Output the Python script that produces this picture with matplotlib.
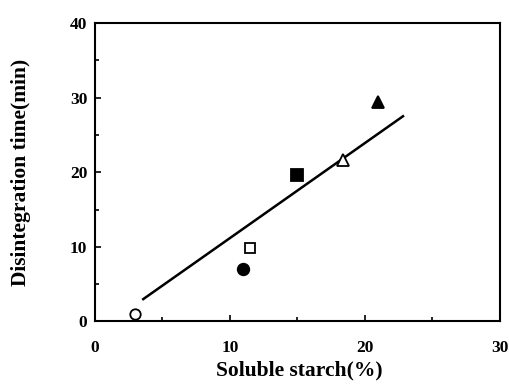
import matplotlib
matplotlib.use("Agg")
import matplotlib.pyplot as plt
from matplotlib.ticker import MultipleLocator

# Data
open_circle_x = [3.0]
open_circle_y = [1.0]
filled_circle_x = [11.0]
filled_circle_y = [7.0]
open_square_x = [11.5]
open_square_y = [9.9]
filled_square_x = [15.0]
filled_square_y = [19.6]
open_triangle_x = [18.4]
open_triangle_y = [21.6]
filled_triangle_x = [21.0]
filled_triangle_y = [29.4]
fit_x = [3.5, 22.9]
fit_y = [2.9, 27.6]

x_ticks = [0, 10, 20, 30]
y_ticks = [0, 10, 20, 30, 40]

plt.rcParams['font.family'] = ['Liberation Serif', 'DejaVu Serif']
plt.rcParams['font.weight'] = 'bold'

fig = plt.figure(figsize=(5.09, 3.87), dpi=100)
ax = fig.add_axes([0.1866, 0.1693, 0.7954, 0.7713])

ax.plot(fit_x, fit_y, color='black', lw=1.8, solid_capstyle='butt')

ms = 8.3
mew = 1.3
ax.plot(open_circle_x, open_circle_y, 'o', ms=ms - 0.8, mfc='white', mec='black', mew=mew)
ax.plot(filled_circle_x, filled_circle_y, 'o', ms=ms, mfc='black', mec='black', mew=mew)
ax.plot(open_square_x, open_square_y, 's', ms=ms - 1.0, mfc='white', mec='black', mew=mew)
ax.plot(filled_square_x, filled_square_y, 's', ms=ms - 0.3, mfc='black', mec='black', mew=mew)
ax.plot(open_triangle_x, open_triangle_y, '^', ms=ms, mfc='white', mec='black', mew=mew)
ax.plot(filled_triangle_x, filled_triangle_y, '^', ms=ms, mfc='black', mec='black', mew=mew)

ax.set_xlim(0, 30)
ax.set_ylim(0, 40)
ax.set_xticks(x_ticks)
ax.set_yticks(y_ticks)
ax.xaxis.set_minor_locator(MultipleLocator(5))
ax.yaxis.set_minor_locator(MultipleLocator(5))
ax.tick_params(which='major', direction='in', length=4.5, width=1.2, labelsize=12.5)
ax.tick_params(which='minor', direction='in', length=3, width=1.2)
ax.tick_params(axis='x', which='major', pad=13)
ax.tick_params(axis='y', which='major', pad=5.5)
for lbl in ax.get_xticklabels() + ax.get_yticklabels():
    lbl.set_fontweight('bold')
for s in ax.spines.values():
    s.set_linewidth(1.5)

ax.set_xlabel('Soluble starch(%)', fontsize=15.5, fontweight='bold')
ax.set_ylabel('Disintegration time(min)', fontsize=15.5, fontweight='bold')
ax.xaxis.set_label_coords(0.504, -0.13)
ax.yaxis.set_label_coords(-0.158, 0.5)

fig.savefig('out.png', dpi=100)
